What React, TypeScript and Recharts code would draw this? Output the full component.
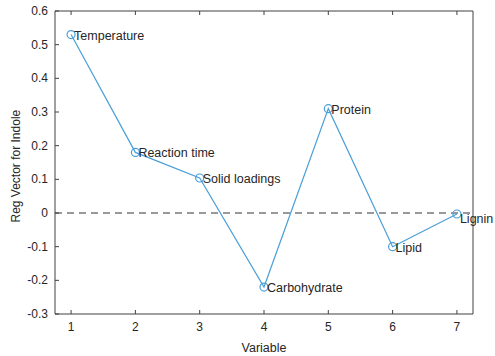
import React from 'react';
import { LineChart, Line, XAxis, YAxis, ReferenceLine, LabelList } from 'recharts';

const variables = [1, 2, 3, 4, 5, 6, 7];
const names = ['Temperature', 'Reaction time', 'Solid loadings', 'Carbohydrate', 'Protein', 'Lipid', 'Lignin'];
const regVector = [0.53, 0.18, 0.104, -0.22, 0.31, -0.1, -0.003];
const xTicks = [1, 2, 3, 4, 5, 6, 7];
const yTicks = [-0.3, -0.2, -0.1, 0, 0.1, 0.2, 0.3, 0.4, 0.5, 0.6];

const data = variables.map((v, i) => ({ variable: v, value: regVector[i], name: names[i] }));

const FONT = '"Liberation Sans", Arial, sans-serif';
const AXIS = '#404040';
const TEXT = '#262626';
const BLUE = '#4a9fd8';

const BottomTick = (props: any) => {
  const { x, y, payload } = props;
  return (
    <g>
      <line x1={x} y1={y} x2={x} y2={y - 4} stroke={AXIS} />
      <text x={x} y={y + 17} textAnchor="middle" fontSize={12} fill={TEXT} fontFamily={FONT}>
        {payload.value}
      </text>
    </g>
  );
};

const LeftTick = (props: any) => {
  const { x, y, payload } = props;
  const v = Math.round(payload.value * 10) / 10;
  return (
    <g>
      <line x1={x} y1={y} x2={x + 4} y2={y} stroke={AXIS} />
      <text x={x - 7} y={y + 4} textAnchor="end" fontSize={12} fill={TEXT} fontFamily={FONT}>
        {v === 0 ? '0' : String(v)}
      </text>
    </g>
  );
};

const TopTick = (props: any) => {
  const { x, y } = props;
  return <line x1={x} y1={y} x2={x} y2={y + 4} stroke={AXIS} />;
};

const RightTick = (props: any) => {
  const { x, y } = props;
  return <line x1={x} y1={y} x2={x - 4} y2={y} stroke={AXIS} />;
};

const PointLabel = (props: any) => {
  const { x, y, value, index } = props;
  // the last label sits a bit lower, as in the original
  const dy = index === data.length - 1 ? 9 : 5;
  return (
    <text x={x + 3} y={y + dy} fontSize={12.5} fill={TEXT} fontFamily={FONT}>
      {value}
    </text>
  );
};

export default function App() {
  return (
    <div style={{ position: 'absolute', left: 0, top: 0, width: 495, height: 356, background: '#fff' }}>
      <LineChart width={495} height={356} data={data} margin={{ top: 0, right: 0, bottom: 0, left: 0 }}>
        <XAxis
          dataKey="variable"
          type="number"
          domain={[0.75, 7.25]}
          ticks={xTicks}
          height={42}
          tickSize={0}
          tickMargin={0}
          tickLine={false}
          axisLine={{ stroke: AXIS }}
          tick={<BottomTick />}
          label={{ value: 'Variable', position: 'insideBottom', offset: 4, fontSize: 12.5, fill: TEXT, fontFamily: FONT }}
        />
        <XAxis
          xAxisId="top"
          orientation="top"
          dataKey="variable"
          type="number"
          domain={[0.75, 7.25]}
          ticks={xTicks}
          height={11}
          tickSize={0}
          tickMargin={0}
          tickLine={false}
          axisLine={{ stroke: AXIS }}
          tick={<TopTick />}
        />
        <YAxis
          type="number"
          domain={[-0.3, 0.6]}
          ticks={yTicks}
          width={55}
          tickSize={0}
          tickMargin={0}
          tickLine={false}
          axisLine={{ stroke: AXIS }}
          tick={<LeftTick />}
          label={{ value: 'Reg Vector for Indole', angle: -90, position: 'insideLeft', offset: 16, dy: 60, fontSize: 12, fill: TEXT, fontFamily: FONT }}
        />
        <YAxis
          yAxisId="right"
          orientation="right"
          type="number"
          domain={[-0.3, 0.6]}
          ticks={yTicks}
          width={22}
          tickSize={0}
          tickMargin={0}
          tickLine={false}
          axisLine={{ stroke: AXIS }}
          tick={<RightTick />}
        />
        <ReferenceLine y={0} stroke="#333" strokeDasharray="7 5" strokeWidth={1} />
        <Line
          dataKey="value"
          stroke={BLUE}
          strokeWidth={1.2}
          dot={{ r: 4, stroke: BLUE, strokeWidth: 1.2, fill: 'none' }}
          activeDot={false}
          isAnimationActive={false}
        >
          <LabelList dataKey="name" content={<PointLabel />} />
        </Line>
      </LineChart>
    </div>
  );
}
